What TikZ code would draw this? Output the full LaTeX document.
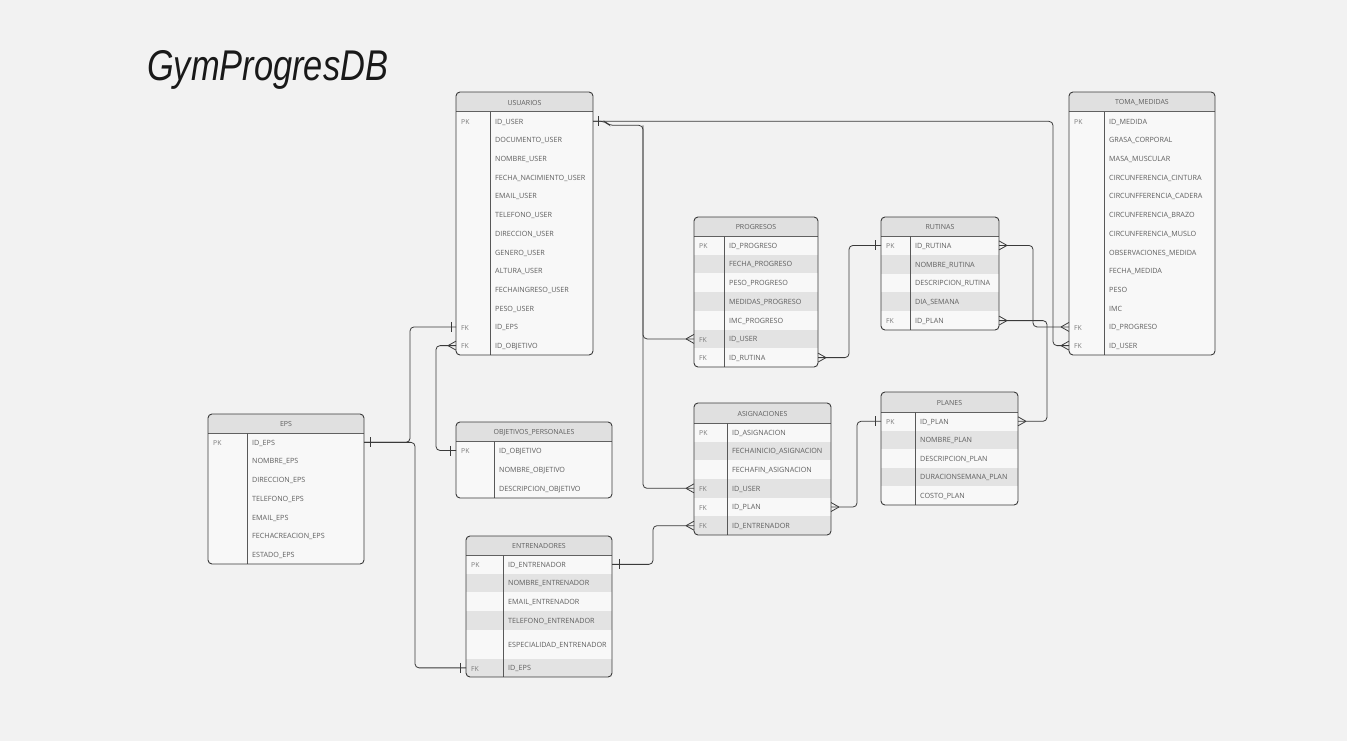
\documentclass[tikz,border=0pt]{standalone}
\usepackage{fontspec}
\setmainfont{Open Sans}
\newfontfamily\titlefont{Liberation Sans}
\usetikzlibrary{calc}
\definecolor{bgc}{HTML}{F2F2F2}
\definecolor{bodyc}{HTML}{F8F8F8}
\definecolor{hdrc}{HTML}{E0E0E0}
\definecolor{shadec}{HTML}{E3E3E3}
\definecolor{linec}{HTML}{3A3A3A}
\definecolor{txtc}{HTML}{5E5E5E}
\definecolor{keyc}{HTML}{7A7A7A}
\tikzset{
  rowbox/.style={inner sep=0pt, outer sep=0pt, draw=none},
  fldtxt/.style={anchor=west, inner sep=0pt, text=txtc, font=\fontsize{7.2}{8}\selectfont},
  keytxt/.style={anchor=west, inner sep=0pt, text=keyc, font=\fontsize{6.8}{8}\selectfont},
  ttltxt/.style={inner sep=0pt, text=txtc, font=\fontsize{7.0}{8}\selectfont},
  border/.style={draw=linec, line width=0.9pt},
  hdrline/.style={draw=linec!80, line width=1pt},
  divline/.style={draw=linec!85, line width=1pt},
  conn/.style={draw=linec, line width=0.8pt, rounded corners=4pt},
  crowW/.pic={\draw[linec, line width=0.8pt] (-8,0) -- (0,-4.5) (-8,0) -- (0,4.5);},
  crowE/.pic={\draw[linec, line width=0.8pt] (8,0) -- (0,-4.5) (8,0) -- (0,4.5);},
  onebar/.pic={\draw[linec, line width=0.8pt] (0,-5) -- (0,5);}
}
% #1 name, #2 x1, #3 x2, #4 divider x, #5 top, #6 header bottom, #7 bottom, #8 title, #9 rows key/field/shade/height
\newcommand\ertable[9]{%
  \begin{scope}
    \path[clip, rounded corners=4pt] (#2,#5) rectangle (#3,#7);
    \fill[bodyc] (#2,#5) rectangle (#3,#7);
    \fill[hdrc] (#2,#5) rectangle (#3,#6);
    \xdef\cury{#6}%
    \pgfmathsetmacro\rw{#3-#2}%
    \pgfmathsetmacro\rxc{(#2+#3)/2}%
    \foreach \rk/\rf/\rs/\rh [count=\ri] in {#9} {
      \pgfmathsetmacro\ya{\cury}%
      \pgfmathsetmacro\yb{\cury+\rh}%
      \pgfmathsetmacro\yc{\cury+\rh/2}%
      \ifnum\rs=1 \fill[shadec] (#2,\ya) rectangle (#3,\yb);\fi
      \node[rowbox, minimum width=\rw pt, minimum height=\rh pt] (#1-\ri) at (\rxc,\yc) {};
      \node[keytxt] at (#2+5,\yc+0.8) {\rk};
      \node[fldtxt] at (#4+5,\yc+0.8) {\rf};
      \xdef\cury{\yb}%
    }
  \end{scope}
  \draw[hdrline] (#2,#6) -- (#3,#6);
  \draw[divline] (#4,#6) -- (#4,#7);
  \draw[border, rounded corners=4pt] (#2,#5) rectangle (#3,#7);
  \node[ttltxt] (#1-title) at ({(#2+#3)/2},{(#5+#6)/2+0.8}) {#8};
}
\begin{document}
\begin{tikzpicture}[x=1pt, y=-1pt]
\useasboundingbox (0,0) rectangle (1347,741);
\fill[bgc] (0,0) rectangle (1347,741);

\node[anchor=west, inner sep=0pt, text=black!90] (title) at (147,70)
  {\scalebox{0.80}[1]{\titlefont\itshape\fontsize{43}{43}\selectfont GymProgresDB}};

\ertable{usr}{456}{593}{490}{92}{112}{355}{USUARIOS}{
  PK/ID\_USER/0/18.69, /DOCUMENTO\_USER/0/18.69, /NOMBRE\_USER/0/18.69,
  /FECHA\_NACIMIENTO\_USER/0/18.69, /EMAIL\_USER/0/18.69, /TELEFONO\_USER/0/18.69,
  /DIRECCION\_USER/0/18.69, /GENERO\_USER/0/18.69, /ALTURA\_USER/0/18.69,
  /FECHAINGRESO\_USER/0/18.69, /PESO\_USER/0/18.69, FK/ID\_EPS/0/18.69,
  FK/ID\_OBJETIVO/0/18.69}

\ertable{tm}{1069}{1215}{1104}{92}{112}{355}{TOMA\_MEDIDAS}{
  PK/ID\_MEDIDA/0/18.69, /GRASA\_CORPORAL/0/18.69, /MASA\_MUSCULAR/0/18.69,
  /CIRCUNFERENCIA\_CINTURA/0/18.69, /CIRCUNFFERENCIA\_CADERA/0/18.69,
  /CIRCUNFERENCIA\_BRAZO/0/18.69, /CIRCUNFERENCIA\_MUSLO/0/18.69,
  /OBSERVACIONES\_MEDIDA/0/18.69, /FECHA\_MEDIDA/0/18.69, /PESO/0/18.69,
  /IMC/0/18.69, FK/ID\_PROGRESO/0/18.69, FK/ID\_USER/0/18.69}

\ertable{pro}{694}{818}{724}{217}{236}{367}{PROGRESOS}{
  PK/ID\_PROGRESO/0/18.71, /FECHA\_PROGRESO/1/18.71, /PESO\_PROGRESO/0/18.71,
  /MEDIDAS\_PROGRESO/1/18.71, /IMC\_PROGRESO/0/18.71, FK/ID\_USER/1/18.71,
  FK/ID\_RUTINA/0/18.71}

\ertable{rut}{881}{999}{910}{217}{236}{330}{RUTINAS}{
  PK/ID\_RUTINA/0/18.8, /NOMBRE\_RUTINA/1/18.8, /DESCRIPCION\_RUTINA/0/18.8,
  /DIA\_SEMANA/1/18.8, FK/ID\_PLAN/0/18.8}

\ertable{asg}{694}{831}{727}{403}{423}{535}{ASIGNACIONES}{
  PK/ID\_ASIGNACION/0/18.67, /FECHAINICIO\_ASIGNACION/1/18.67,
  /FECHAFIN\_ASIGNACION/0/18.67, FK/ID\_USER/1/18.67, FK/ID\_PLAN/0/18.67,
  FK/ID\_ENTRENADOR/1/18.67}

\ertable{pla}{881}{1018}{915}{392}{412}{505}{PLANES}{
  PK/ID\_PLAN/0/18.6, /NOMBRE\_PLAN/1/18.6, /DESCRIPCION\_PLAN/0/18.6,
  /DURACIONSEMANA\_PLAN/1/18.6, /COSTO\_PLAN/0/18.6}

\ertable{eps}{208}{364}{247}{414}{433}{564}{EPS}{
  PK/ID\_EPS/0/18.71, /NOMBRE\_EPS/0/18.71, /DIRECCION\_EPS/0/18.71,
  /TELEFONO\_EPS/0/18.71, /EMAIL\_EPS/0/18.71, /FECHACREACION\_EPS/0/18.71,
  /ESTADO\_EPS/0/18.71}

\ertable{obj}{456}{612}{494}{422}{441}{498}{OBJETIVOS\_PERSONALES}{
  PK/ID\_OBJETIVO/0/19, /NOMBRE\_OBJETIVO/0/19, /DESCRIPCION\_OBJETIVO/0/19}

\ertable{ent}{466}{612}{503}{536}{555}{677}{ENTRENADORES}{
  PK/ID\_ENTRENADOR/0/18.7, /NOMBRE\_ENTRENADOR/1/18.7, /EMAIL\_ENTRENADOR/0/18.7,
  /TELEFONO\_ENTRENADOR/1/18.7, /ESPECIALIDAD\_ENTRENADOR/0/28.7, FK/ID\_EPS/1/18.7}

% routing coordinates
\coordinate (xa) at (643,0);
\coordinate (xb) at (1053,0);
\coordinate (xc) at (410,0);
\coordinate (xd) at (415,0);
\coordinate (xe) at (436,0);
\coordinate (xf) at (849,0);
\coordinate (xg) at (1033,0);
\coordinate (xh) at (1047,0);
\coordinate (xi) at (857,0);
\coordinate (xj) at (653,0);

% connectors
\draw[conn] (usr-1.east) -- (usr-1.east -| xb) |- (tm-13.west);
\draw[conn] (usr-1.east) -- ++(12,0) -- ++(4,4) coordinate (j1) -- (j1 -| xa) |- (pro-6.west);
\draw[conn] (j1 -| xa) |- (asg-4.west);
\draw[conn] (eps-1.east) -- (eps-1.east -| xc) |- (usr-12.west);
\draw[conn] (eps-1.east) -- (eps-1.east -| xd) |- (ent-6.west);
\draw[conn] (obj-1.west) -- (obj-1.west -| xe) |- (usr-13.west);
\draw[conn] (rut-1.west) -- (rut-1.west -| xf) |- (pro-7.east);
\draw[conn] (rut-1.east) -- (rut-1.east -| xg) |- (tm-12.west);
\draw[conn] (rut-5.east) -- (rut-5.east -| xh) |- (pla-1.east);
\draw[conn] (pla-1.west) -- (pla-1.west -| xi) |- (asg-5.east);
\draw[conn] (ent-1.east) -- (ent-1.east -| xj) |- (asg-6.west);

% one marks
\pic at ([xshift=5pt]usr-1.east) {onebar};
\pic at ([xshift=6pt]eps-1.east) {onebar};
\pic at ([xshift=-5pt]usr-12.west) {onebar};
\pic at ([xshift=-6pt]obj-1.west) {onebar};
\pic at ([xshift=-6pt]rut-1.west) {onebar};
\pic at ([xshift=-6pt]pla-1.west) {onebar};
\pic at ([xshift=7pt]ent-1.east) {onebar};
\pic at ([xshift=-6pt]ent-6.west) {onebar};

% many marks
\pic at (pro-6.west) {crowW};
\pic at (asg-4.west) {crowW};
\pic at (usr-13.west) {crowW};
\pic at (tm-12.west) {crowW};
\pic at (tm-13.west) {crowW};
\pic at (asg-6.west) {crowW};
\pic at (pro-7.east) {crowE};
\pic at (rut-1.east) {crowE};
\pic at (rut-5.east) {crowE};
\pic at (pla-1.east) {crowE};
\pic at (asg-5.east) {crowE};
\end{tikzpicture}
\end{document}
